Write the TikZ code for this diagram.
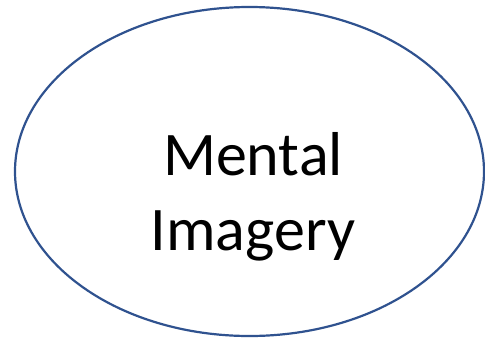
\documentclass[tikz,border=0pt]{standalone}
\usepackage{fontspec}
\setmainfont{Carlito}
\usetikzlibrary{shapes.geometric}
\definecolor{ovalblue}{RGB}{47,82,143}
\tikzset{
  oval/.style={ellipse, draw=ovalblue, line width=2.2pt, minimum width=469pt, minimum height=329pt, inner sep=0pt},
  label text/.style={font=\fontsize{62pt}{75pt}\selectfont, align=center, inner sep=0pt}
}
\begin{document}
\begin{tikzpicture}[x=1pt,y=-1pt]
\useasboundingbox (0,0) rectangle (485,338);
\node[oval] (oval) at (249.5,171.5) {};
\node[label text, anchor=base] (txt) at (253,250) {Mental\\Imagery};
\end{tikzpicture}
\end{document}
